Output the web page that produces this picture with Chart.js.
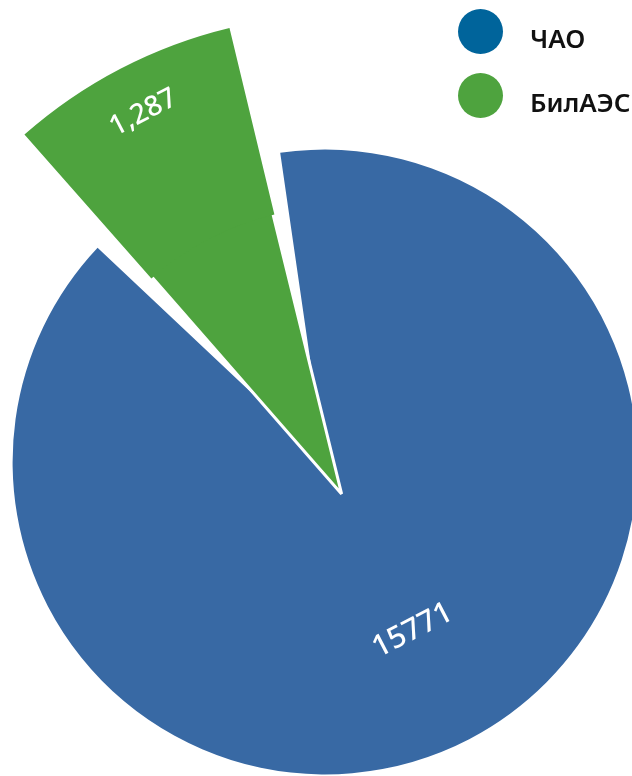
<!DOCTYPE html>
<html>
<head>
<meta charset="utf-8">
<title>ЧАО / БилАЭС</title>
<script src="https://cdn.jsdelivr.net/npm/chart.js@4.4.1/dist/chart.umd.min.js"></script>
<style>
  html, body { margin: 0; padding: 0; background: #fff; overflow: hidden; }
  #wrap { position: relative; width: 632px; height: 776px; }
  #pie { position: absolute; left: 0; top: 0; }
  #legend { position: absolute; left: 458px; top: 9px; margin: 0; padding: 0; list-style: none;
            font-family: "Noto Sans", sans-serif; font-weight: 600; font-size: 26px; color: #111; }
  #legend li { height: 45px; margin-bottom: 19px; white-space: nowrap; }
  #legend .dot { display: inline-block; width: 45px; height: 45px; border-radius: 50%; vertical-align: top; }
  #legend .txt { display: inline-block; line-height: 45px; margin-left: 27px; position: relative; top: 7px; vertical-align: top; }
</style>
</head>
<body>
<div id="wrap">
  <canvas id="pie" width="632" height="776"></canvas>
  <ul id="legend"></ul>
</div>
<script>
// data
var labels = ['ЧАО', 'БилАЭС'];
var values = [15771, 1287];
var valueLabels = ['15771', '1,287'];

// colours
var sliceColors = ['#3869A4', '#4EA33E'];
var legendColors = ['#00649B', '#4EA33E'];

// html legend
var legend = document.getElementById('legend');
for (var i = 0; i < labels.length; i++) {
  var li = document.createElement('li');
  li.innerHTML = '<span class="dot" style="background:' + legendColors[i] + '"></span>' +
                 '<span class="txt">' + labels[i] + '</span>';
  legend.appendChild(li);
}

// white value text along each slice
var sliceLabels = {
  id: 'sliceLabels',
  afterDatasetsDraw: function(chart, args, opts) {
    var ctx = chart.ctx;
    for (var i = 0; i < values.length; i++) {
      var arc = chart.getDatasetMeta(opts.source[i]).data[i];
      var mid = (arc.startAngle + arc.endAngle) / 2;
      var r = arc.outerRadius * opts.radius[i];
      var x = arc.x + Math.cos(mid) * r;
      var y = arc.y + Math.sin(mid) * r;
      var rot = mid - Math.PI / 2;
      while (rot > Math.PI / 2) rot -= Math.PI;
      while (rot < -Math.PI / 2) rot += Math.PI;
      ctx.save();
      ctx.translate(x, y);
      ctx.rotate(rot);
      ctx.font = '500 ' + opts.size[i] + 'px "Noto Sans", sans-serif';
      ctx.fillStyle = '#fff';
      ctx.textAlign = 'center';
      ctx.textBaseline = 'middle';
      ctx.fillText(valueLabels[i], 0, 0);
      ctx.restore();
    }
  }
};

var ctx = document.getElementById('pie');

var PieChart = new Chart(ctx, {
  type: 'pie',
  data: {
    labels: labels,
    datasets: [
      {
        // outer ring: only the pulled out part of БилАЭС is visible
        data: values,
        backgroundColor: ['rgba(0,0,0,0)', sliceColors[1]],
        borderWidth: 0,
        weight: 0.625,
        offset: [0, -144],
        clip: false
      },
      {
        data: values,
        backgroundColor: sliceColors,
        borderColor: '#fff',
        borderWidth: [0, 3],
        weight: 1,
        spacing: 10.8,
        offset: [0, -144],
        clip: false
      }
    ]
  },
  options: {
    responsive: false,
    animation: false,
    events: [],
    rotation: -13.9,
    radius: 498.875,
    layout: { padding: { left: 18, top: 148, right: 0, bottom: 0 } },
    plugins: {
      legend: { display: false },
      tooltip: { enabled: false },
      sliceLabels: { source: [1, 0], radius: [0.619, 0.789], size: [30, 28] }
    }
  },
  plugins: [sliceLabels]
});
</script>
</body>
</html>
